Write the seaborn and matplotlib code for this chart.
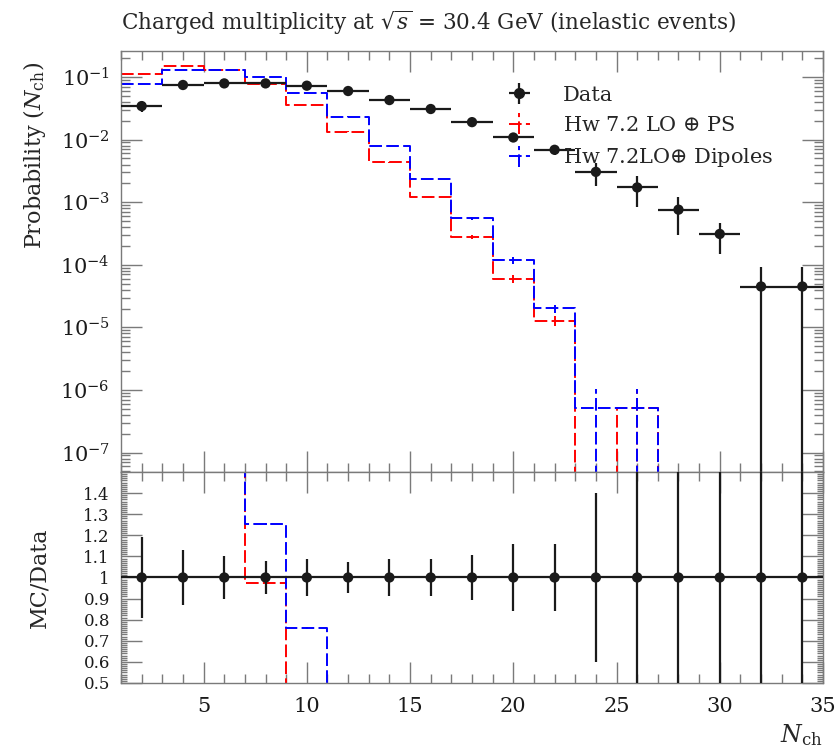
import numpy as np
import matplotlib
matplotlib.use("Agg")
import matplotlib.pyplot as plt
import seaborn as sns
import pandas as pd
from matplotlib.ticker import (FixedLocator, MultipleLocator, LogLocator,
                               NullFormatter, FuncFormatter)

# ---------------- data ----------------
data_centers = [2, 4, 6, 8, 10, 12, 14, 16, 18, 20, 22, 24, 26, 28, 30, 32, 34]
data_values = [0.0343, 0.0745, 0.079, 0.079, 0.0726, 0.0597, 0.0428, 0.0308,
               0.019, 0.0108, 0.00687, 0.00305, 0.00172, 0.00076, 0.000311,
               4.5e-5, 4.5e-5]
data_relerr = [0.19, 0.13, 0.10, 0.08, 0.09, 0.075, 0.088, 0.09, 0.105, 0.16,
               0.16, 0.40, 0.52, 0.60, 0.52, 1.05, 1.05]
bin_halfwidth = 1.0

mc_centers = [2, 4, 6, 8, 10, 12, 14, 16, 18, 20, 22, 24, 26]
ps_values = [0.112, 0.150, 0.130, 0.077, 0.0356, 0.0133, 0.00432, 0.00122,
             0.000279, 5.93e-5, 1.28e-5, 0.0, 5.1e-7]
ps_relerr = [0.005, 0.004, 0.004, 0.005, 0.008, 0.013, 0.025, 0.045, 0.09,
             0.15, 0.18, 0.0, 1.0]
dip_values = [0.0764, 0.129, 0.129, 0.099, 0.0552, 0.0232, 0.00796, 0.00233,
              0.00055, 0.000118, 2.01e-5, 5.1e-7, 5.1e-7]
dip_relerr = [0.005, 0.004, 0.004, 0.005, 0.007, 0.01, 0.02, 0.035, 0.07,
              0.12, 0.15, 1.0, 1.0]

labels = ["Data", "Hw 7.2 LO $\\oplus$ PS", "Hw 7.2LO$\\oplus$ Dipoles"]
title = r"Charged multiplicity at $\sqrt{s}$ = 30.4 GeV (inelastic events)"
ratio_ticks = [0.5, 0.6, 0.7, 0.8, 0.9, 1.0, 1.1, 1.2, 1.3, 1.4]
ratio_tick_labels = ["0.5", "0.6", "0.7", "0.8", "0.9", "1", "1.1", "1.2",
                     "1.3", "1.4"]

# ---------------- style ----------------
sns.set_theme(style="ticks")
plt.rcParams["font.family"] = ["DejaVu Serif"]
plt.rcParams["mathtext.fontset"] = "dejavuserif"

FS = 15
GREY = "#7a7a7a"
DASH = (0, (6.5, 2.2))
RED = "#ff0000"
BLUE = "#0000ff"

fig = plt.figure(figsize=(8.38, 7.48), dpi=100)
ax1 = fig.add_axes([0.1444, 0.369, 0.8377, 0.5628])
ax2 = fig.add_axes([0.1444, 0.0869, 0.8377, 0.2821], sharex=ax1)

dc = np.array(data_centers, float)
dv = np.array(data_values)
de = np.array(data_relerr) * dv
mcc = np.array(mc_centers, float)
edges = np.append(mcc - bin_halfwidth, mcc[-1] + bin_halfwidth)

ax1.set_yscale("log")

series = [(ps_values, ps_relerr, RED), (dip_values, dip_relerr, BLUE)]
data_idx = [data_centers.index(c) for c in mc_centers]
for vals, rel, col in series:
    v = np.array(vals)
    e = np.array(rel) * v
    # main panel step histogram
    ax1.step(edges, np.append(v, 0.0), where="post", color=col, lw=1.4,
             linestyle=DASH, zorder=2)
    lo = np.maximum(v - e, 1e-12)
    hi = v + e
    m = v > 0
    ax1.vlines(mcc[m], lo[m], hi[m], color=col, lw=1.4, linestyle=DASH, zorder=2)
    # ratio panel
    ref = dv[data_idx]
    r = v / ref
    re = e / ref
    ax2.step(edges, np.append(r, 0.0), where="post", color=col, lw=1.4,
             linestyle=DASH, zorder=2)
    ax2.vlines(mcc[m], (r - re)[m], (r + re)[m], color=col, lw=1.4,
               linestyle=DASH, zorder=2)

# data: error bars + markers
lo_d = np.maximum(dv - de, 1e-12)
ax1.errorbar(dc, dv, xerr=bin_halfwidth, yerr=[dv - lo_d, de], fmt="none",
             ecolor="k", elinewidth=1.6, capsize=0, zorder=3)
df = pd.DataFrame({"N": dc, "P": dv, "R": np.ones_like(dv)})
sns.scatterplot(data=df, x="N", y="P", ax=ax1, color="k", s=55,
                edgecolor="none", zorder=4, legend=False)
ax2.errorbar(dc, np.ones_like(dv), xerr=bin_halfwidth,
             yerr=np.array(data_relerr), fmt="none", ecolor="k",
             elinewidth=1.6, capsize=0, zorder=3)
sns.scatterplot(data=df, x="N", y="R", ax=ax2, color="k", s=55,
                edgecolor="none", zorder=4, legend=False)

# legend proxies
h_data = ax1.errorbar([np.nan], [np.nan], xerr=1, yerr=1, fmt="o", color="k",
                      ms=7, elinewidth=1.6, capsize=0)
handles = [h_data]
for vals, rel, col in series:
    h = ax1.errorbar([np.nan], [np.nan], xerr=1, yerr=1, fmt="none",
                     ecolor=col, elinewidth=1.4, capsize=0)
    for lc in h[2]:
        lc.set_linestyle(DASH)
    handles.append(h)
ax1.legend(handles, labels, loc="upper left", bbox_to_anchor=(0.53, 0.918),
           frameon=False, fontsize=FS, handlelength=2.5, handletextpad=0.85,
           labelspacing=0.55, borderpad=0, borderaxespad=0)

# ---------------- axes ----------------
ax1.set_xlim(1, 35)
ax1.set_ylim(4.9e-8, 0.26)
ax1.yaxis.set_major_locator(LogLocator(base=10, numticks=20))
ax1.yaxis.set_minor_locator(LogLocator(base=10, subs=np.arange(2, 10), numticks=20))
ax1.yaxis.set_minor_formatter(NullFormatter())
ax2.set_ylim(0.5, 1.5)
ax2.set_yticks(ratio_ticks, ratio_tick_labels)
minor_r = [round(0.5 + 0.01 * i, 2) for i in range(101) if i % 10 != 0]
ax2.yaxis.set_minor_locator(FixedLocator(minor_r))
ax2.yaxis.set_minor_formatter(NullFormatter())
ax2.xaxis.set_major_locator(MultipleLocator(5))
ax2.xaxis.set_minor_locator(MultipleLocator(1))

for ax in (ax1, ax2):
    ax.tick_params(which="both", direction="in", top=True, right=True,
                   color=GREY, labelcolor="k", labelsize=FS, width=1.0)
    ax.tick_params(which="major", length=15, pad=8)
    ax.tick_params(which="minor", length=6.5)
    for sp in ax.spines.values():
        sp.set_color(GREY)
        sp.set_linewidth(1.0)
    ax.set_xlabel("")
    ax.set_ylabel("")
ax2.tick_params(axis="y", which="minor", length=4)
ax2.tick_params(axis="y", which="major", labelsize=12)
ax1.tick_params(labelbottom=False)
ax2.tick_params(axis="x", pad=10)

ax1.set_title(title, loc="left", pad=15, fontsize=15.5)
ax1.set_ylabel(r"Probability $(N_{\mathrm{ch}})$", loc="top", fontsize=FS + 1)
ax1.yaxis.set_label_coords(-0.104, 0.974)
ax2.set_ylabel("MC/Data", fontsize=FS + 1)
ax2.yaxis.set_label_coords(-0.101, 0.5)
ax2.set_xlabel(r"$N_{\mathrm{ch}}$", loc="right", fontsize=FS + 2)
ax2.xaxis.set_label_coords(1.0, -0.185)

fig.savefig("out.png", dpi=100)
